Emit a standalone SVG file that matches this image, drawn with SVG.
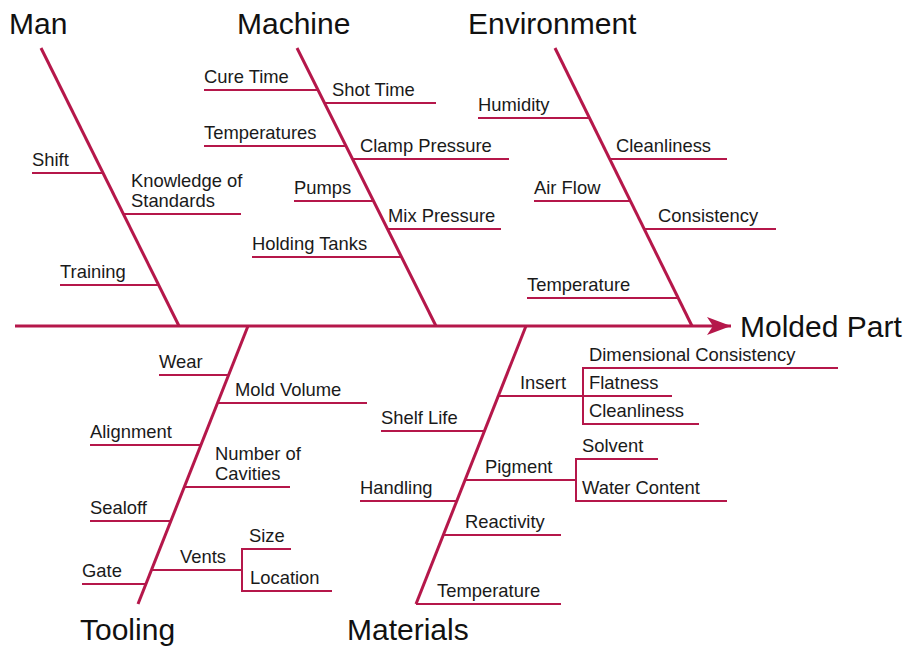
<svg xmlns="http://www.w3.org/2000/svg" width="907" height="648" viewBox="0 0 907 648">
  <style>
    .bone { stroke: #b5174a; stroke-width: 3; fill: none; stroke-linecap: butt; }
    .twig { stroke: #b5174a; stroke-width: 2; fill: none; }
    .head { font-family: "Liberation Sans", Arial, sans-serif; font-size: 30px; fill: #111; }
    .item { font-family: "Liberation Sans", Arial, sans-serif; font-size: 18.4px; fill: #1a1a1a; }
  </style>
  <defs>
    <marker id="arrow" markerUnits="userSpaceOnUse" markerWidth="26" markerHeight="20" refX="24" refY="9" orient="auto">
      <polygon points="24,9 0,0 6,9 0,18" fill="#b5174a"/>
    </marker>
  </defs>

  <!-- main spine and category bones -->
  <g id="connectors">
    <line class="bone" x1="15" y1="326" x2="731" y2="326" marker-end="url(#arrow)"/>
    <line class="bone" x1="41" y1="48" x2="179" y2="326"/>
    <line class="bone" x1="297" y1="48" x2="436" y2="326"/>
    <line class="bone" x1="555" y1="48" x2="692" y2="326"/>
    <line class="bone" x1="248" y1="326" x2="138" y2="604"/>
    <line class="bone" x1="526" y1="326" x2="416" y2="604"/>
  </g>

  <g id="effect">
    <text class="head" x="740" y="337">Molded Part</text>
  </g>

  <g id="man">
    <text class="head" x="9" y="34">Man</text>
    <line class="twig" x1="32" y1="173" x2="103" y2="173"/>
    <text class="item" x="32" y="166">Shift</text>
    <line class="twig" x1="123" y1="214" x2="241" y2="214"/>
    <text class="item" x="131" y="187">Knowledge of</text>
    <text class="item" x="131" y="207">Standards</text>
    <line class="twig" x1="60" y1="285" x2="159" y2="285"/>
    <text class="item" x="60" y="278">Training</text>
  </g>

  <g id="machine">
    <text class="head" x="237" y="34">Machine</text>
    <line class="twig" x1="204" y1="90" x2="318" y2="90"/>
    <text class="item" x="204" y="83">Cure Time</text>
    <line class="twig" x1="325" y1="103" x2="436" y2="103"/>
    <text class="item" x="332" y="96">Shot Time</text>
    <line class="twig" x1="204" y1="146" x2="346" y2="146"/>
    <text class="item" x="204" y="139">Temperatures</text>
    <line class="twig" x1="352" y1="159" x2="509" y2="159"/>
    <text class="item" x="360" y="152">Clamp Pressure</text>
    <line class="twig" x1="294" y1="201" x2="374" y2="201"/>
    <text class="item" x="294" y="194">Pumps</text>
    <line class="twig" x1="387" y1="229" x2="501" y2="229"/>
    <text class="item" x="388" y="222">Mix Pressure</text>
    <line class="twig" x1="252" y1="257" x2="402" y2="257"/>
    <text class="item" x="252" y="250">Holding Tanks</text>
  </g>

  <g id="environment">
    <text class="head" x="468" y="34">Environment</text>
    <line class="twig" x1="478" y1="118" x2="590" y2="118"/>
    <text class="item" x="478" y="111">Humidity</text>
    <line class="twig" x1="609" y1="159" x2="727" y2="159"/>
    <text class="item" x="616" y="152">Cleanliness</text>
    <line class="twig" x1="534" y1="201" x2="630" y2="201"/>
    <text class="item" x="534" y="194">Air Flow</text>
    <line class="twig" x1="644" y1="229" x2="776" y2="229"/>
    <text class="item" x="658" y="222">Consistency</text>
    <line class="twig" x1="527" y1="298" x2="678" y2="298"/>
    <text class="item" x="527" y="291">Temperature</text>
  </g>

  <g id="tooling">
    <text class="head" x="80" y="640">Tooling</text>
    <line class="twig" x1="159" y1="375" x2="229" y2="375"/>
    <text class="item" x="159" y="368">Wear</text>
    <line class="twig" x1="217" y1="403" x2="367" y2="403"/>
    <text class="item" x="235" y="396">Mold Volume</text>
    <line class="twig" x1="90" y1="445" x2="201" y2="445"/>
    <text class="item" x="90" y="438">Alignment</text>
    <line class="twig" x1="184" y1="487" x2="290" y2="487"/>
    <text class="item" x="215" y="460">Number of</text>
    <text class="item" x="215" y="480">Cavities</text>
    <line class="twig" x1="90" y1="521" x2="171" y2="521"/>
    <text class="item" x="90" y="514">Sealoff</text>
    <line class="twig" x1="151" y1="570" x2="242" y2="570"/>
    <text class="item" x="180" y="563">Vents</text>
    <polyline class="twig" points="291,549 242,549 242,591 332,591"/>
    <text class="item" x="249" y="542">Size</text>
    <text class="item" x="250" y="584">Location</text>
    <line class="twig" x1="82" y1="584" x2="145" y2="584"/>
    <text class="item" x="82" y="577">Gate</text>
  </g>

  <g id="materials">
    <text class="head" x="347" y="640">Materials</text>
    <line class="twig" x1="498" y1="396" x2="583" y2="396"/>
    <text class="item" x="520" y="389">Insert</text>
    <polyline class="twig" points="838,368 583,368 583,424 699,424"/>
    <line class="twig" x1="583" y1="396" x2="672" y2="396"/>
    <text class="item" x="589" y="361">Dimensional Consistency</text>
    <text class="item" x="589" y="389">Flatness</text>
    <text class="item" x="589" y="417">Cleanliness</text>
    <line class="twig" x1="381" y1="431" x2="485" y2="431"/>
    <text class="item" x="381" y="424">Shelf Life</text>
    <line class="twig" x1="465" y1="480" x2="576" y2="480"/>
    <text class="item" x="485" y="473">Pigment</text>
    <polyline class="twig" points="658,459 576,459 576,501 727,501"/>
    <text class="item" x="582" y="452">Solvent</text>
    <text class="item" x="582" y="494">Water Content</text>
    <line class="twig" x1="360" y1="501" x2="457" y2="501"/>
    <text class="item" x="360" y="494">Handling</text>
    <line class="twig" x1="444" y1="535" x2="561" y2="535"/>
    <text class="item" x="465" y="528">Reactivity</text>
    <line class="twig" x1="416" y1="604" x2="561" y2="604"/>
    <text class="item" x="437" y="597">Temperature</text>
  </g>
</svg>
